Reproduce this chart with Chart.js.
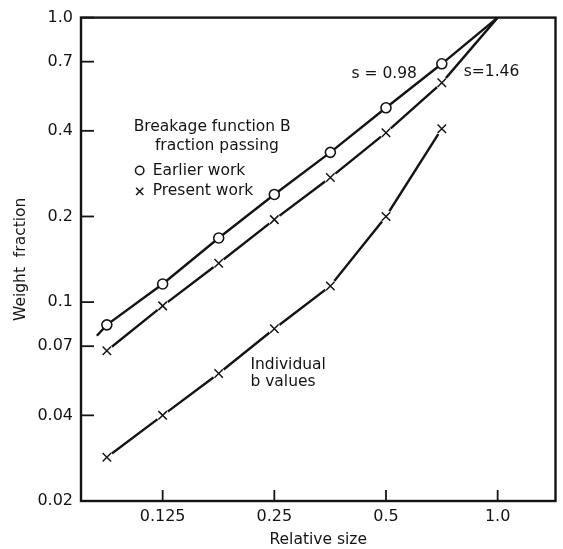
<!DOCTYPE html>
<html>
<head>
<meta charset="utf-8">
<script src="https://cdn.jsdelivr.net/npm/chart.js@4.4.1/dist/chart.umd.min.js"></script>
<style>
  html, body { margin: 0; padding: 0; background: #fff; }
  #wrap { width: 563px; height: 549px; }
</style>
</head>
<body>
<div id="wrap"><canvas id="c" width="563" height="549"></canvas></div>
<script>
// ---- data ----
const relSize      = [0.0884, 0.125, 0.177, 0.25, 0.354, 0.5, 0.707, 1.0];
const earlierB     = [0.0832, 0.1158, 0.168, 0.239, 0.336, 0.482, 0.688, 1.0];
const presentB     = [0.0675, 0.097, 0.137, 0.195, 0.274, 0.394, 0.590, 1.0];
const individualB  = [0.0285, 0.040, 0.0561, 0.0806, 0.114, 0.200, 0.407];
const earlierFitStart = [0.0831, 0.0762];   // fitted line s = 0.98 extends left of first point
const xTickValues  = [0.125, 0.25, 0.5, 1.0];
const xTickLabels  = ['0.125', '0.25', '0.5', '1.0'];
const yTickValues  = [0.02, 0.04, 0.07, 0.1, 0.2, 0.4, 0.7, 1.0];
const yTickLabels  = ['0.02', '0.04', '0.07', '0.1', '0.2', '0.4', '0.7', '1.0'];

const FONT = '"DejaVu Sans", "Liberation Sans", sans-serif';
const INK = '#141414';

function pts(xs, ys) { return ys.map((v, i) => ({ x: xs[i], y: v })); }

const earlierLine = [{ x: earlierFitStart[0], y: earlierFitStart[1] }].concat(pts(relSize, earlierB));
const presentLine = pts(relSize, presentB);
const indivLine   = pts(relSize, individualB);
const earlierPts  = pts(relSize, earlierB).slice(0, 7);
const presentPts  = pts(relSize, presentB).slice(0, 7);
const indivPts    = pts(relSize, individualB);

// annotations in data coordinates
const notes = [
  { t: 'Breakage function B', x: 0.170, y: 0.414, align: 'center' },
  { t: 'fraction passing',    x: 0.175, y: 0.355, align: 'center' },
  { t: 'Earlier work',        x: 0.1175, y: 0.290, align: 'left' },
  { t: 'Present work',        x: 0.1175, y: 0.245, align: 'left' },
  { t: 's = 0.98',            x: 0.606, y: 0.634, align: 'right' },
  { t: 's=1.46',              x: 0.810, y: 0.644, align: 'left' },
  { t: 'Individual',          x: 0.2155, y: 0.0603, align: 'left' },
  { t: 'b values',            x: 0.2155, y: 0.0526, align: 'left' }
];
const legendMarks = [
  { kind: 'circle', x: 0.1084, y: 0.290 },
  { kind: 'cross',  x: 0.1084, y: 0.245 }
];

const lineDS = (data) => ({
  data, showLine: true, borderColor: INK, borderWidth: 2.4,
  pointRadius: 0, pointHoverRadius: 0, order: 3, tension: 0
});
const haloDS = (data) => ({
  data, showLine: false, pointStyle: 'circle', pointRadius: 6.5,
  pointBackgroundColor: '#fff', pointBorderColor: '#fff', pointBorderWidth: 0, order: 2
});
const crossDS = (data) => ({
  data, showLine: false, pointStyle: 'crossRot', pointRadius: 6,
  pointBorderColor: INK, pointBorderWidth: 1.5, order: 1
});

const decor = {
  id: 'decor',
  afterDatasetsDraw(chart) {
    const { ctx, chartArea: a, scales: { x, y } } = chart;
    ctx.save();
    ctx.fillStyle = INK;
    ctx.font = '15.5px ' + FONT;
    ctx.textBaseline = 'middle';
    notes.forEach(n => {
      ctx.textAlign = n.align;
      ctx.fillText(n.t, x.getPixelForValue(n.x), y.getPixelForValue(n.y));
    });
    ctx.strokeStyle = INK;
    ctx.lineWidth = 1.5;
    legendMarks.forEach(m => {
      const px = x.getPixelForValue(m.x), py = y.getPixelForValue(m.y);
      ctx.beginPath();
      if (m.kind === 'circle') {
        ctx.arc(px, py, 4.2, 0, Math.PI * 2);
      } else {
        const r = 3.6;
        ctx.moveTo(px - r, py - r); ctx.lineTo(px + r, py + r);
        ctx.moveTo(px - r, py + r); ctx.lineTo(px + r, py - r);
      }
      ctx.stroke();
    });
    // inward tick marks
    ctx.lineWidth = 1.8;
    xTickValues.forEach(v => {
      const px = x.getPixelForValue(v);
      ctx.beginPath(); ctx.moveTo(px, a.bottom); ctx.lineTo(px, a.bottom - 11); ctx.stroke();
    });
    yTickValues.forEach(v => {
      const py = y.getPixelForValue(v);
      ctx.beginPath(); ctx.moveTo(a.left, py); ctx.lineTo(a.left + 13, py); ctx.stroke();
    });
    // frame
    ctx.lineWidth = 2.4;
    ctx.strokeRect(a.left, a.top, a.right - a.left, a.bottom - a.top);
    ctx.restore();
  }
};

new Chart(document.getElementById('c'), {
  type: 'scatter',
  data: {
    datasets: [
      lineDS(earlierLine),
      lineDS(presentLine),
      lineDS(indivLine),
      {
        data: earlierPts, showLine: false, pointStyle: 'circle', pointRadius: 5,
        pointBackgroundColor: '#fff', pointBorderColor: INK, pointBorderWidth: 1.6, order: 1
      },
      haloDS(presentPts),
      haloDS(indivPts),
      crossDS(presentPts),
      crossDS(indivPts)
    ]
  },
  options: {
    responsive: false,
    animation: false,
    events: [],
    layout: { padding: { top: 15, right: 6, left: 0, bottom: 0 } },
    plugins: { legend: { display: false }, tooltip: { enabled: false } },
    scales: {
      x: {
        type: 'logarithmic', min: 0.0753, max: 1.432,
        afterBuildTicks: s => { s.ticks = xTickValues.map(v => ({ value: v })); },
        afterFit: s => { s.height = 48; },
        grid: { display: false, drawTicks: false },
        border: { display: false },
        ticks: {
          autoSkip: false, maxRotation: 0, padding: 6, color: INK,
          font: { family: FONT, size: 16 },
          callback: (v, i) => xTickLabels[i]
        },
        title: { display: true, text: 'Relative size', color: INK,
                 font: { family: FONT, size: 15.5 }, padding: { top: 2, bottom: 0 } }
      },
      y: {
        type: 'logarithmic', min: 0.02, max: 1.0,
        afterBuildTicks: s => { s.ticks = yTickValues.map(v => ({ value: v })); },
        afterFit: s => { s.width = 81; },
        grid: { display: false, drawTicks: false },
        border: { display: false },
        ticks: {
          autoSkip: false, padding: 8, color: INK,
          font: { family: FONT, size: 16 },
          callback: (v, i) => yTickLabels[i]
        },
        title: { display: true, text: 'Weight  fraction', color: INK,
                 font: { family: FONT, size: 15.5 }, padding: { top: 12, bottom: 0 } }
      }
    }
  },
  plugins: [decor]
});
</script>
</body>
</html>
